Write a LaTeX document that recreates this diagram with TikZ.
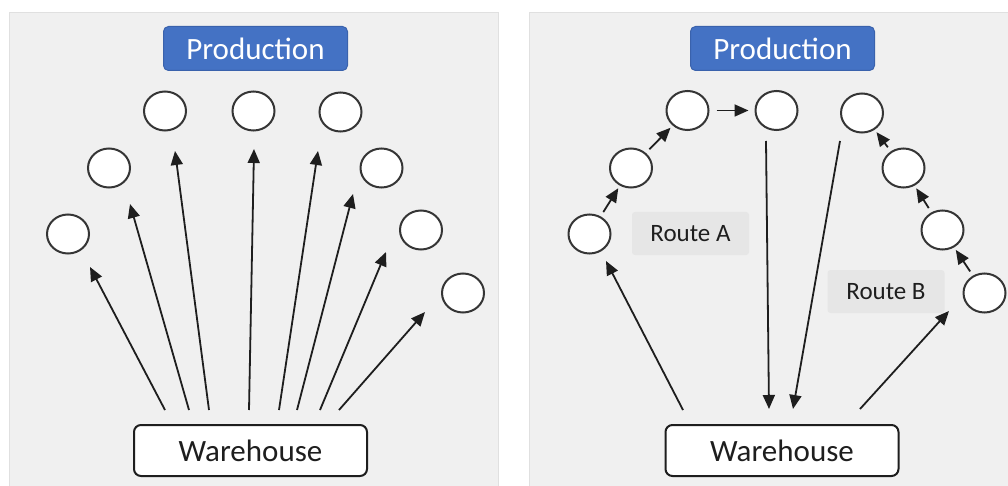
\documentclass[tikz,border=0pt]{standalone}
\usepackage{fontspec}
\setmainfont{Carlito}
\usetikzlibrary{arrows.meta,shapes.geometric}
\definecolor{panelgray}{HTML}{F0F0F0}
\definecolor{panelline}{HTML}{E0E0E0}
\definecolor{prodblue}{HTML}{4472C4}
\definecolor{prodline}{HTML}{3A62AC}
\definecolor{routegray}{HTML}{E6E6E6}
\definecolor{ink}{HTML}{1E1E1E}
\begin{document}
\begin{tikzpicture}[x=1pt,y=-1pt,
  panel/.style={fill=panelgray,draw=panelline,line width=1pt},
  prod/.style={draw=prodline,fill=prodblue,rounded corners=5pt,minimum width=184pt,minimum height=44pt,
    text=white,font=\fontsize{31}{36}\selectfont,inner sep=0pt,line width=1pt},
  whbox/.style={draw=ink,fill=white,rounded corners=7pt,minimum width=233pt,minimum height=51pt,
    line width=2pt,font=\fontsize{31}{36}\selectfont,inner sep=0pt,text=ink},
  spot/.style={ellipse,draw=ink!90,fill=white,line width=2pt,minimum width=42pt,minimum height=39pt,inner sep=0pt},
  arr/.style={-{Triangle[length=14pt,width=12pt]},line width=1.8pt,ink},
  hop/.style={arr,shorten <=5pt,shorten >=3pt},
  route/.style={fill=routegray,rounded corners=3pt,minimum width=117pt,minimum height=43pt,
    inner sep=0pt,font=\fontsize{25}{30}\selectfont,text=ink}
]
\useasboundingbox (0,0) rectangle (1008,486);
% panels
\path[panel] (9,13) rectangle (498,492);
\path[panel] (529,13) rectangle (1012,492);

% ---------------- left panel ----------------
\node[prod] (lprod) at (255.5,48.5) {Production};
\node[whbox] (lwh) at (250.5,450.5) {Warehouse};
\node[spot] (l1) at (68,234) {};
\node[spot] (l2) at (109,168) {};
\node[spot] (l3) at (165,111) {};
\node[spot] (l4) at (253.5,111) {};
\node[spot] (l5) at (340.5,112) {};
\node[spot] (l6) at (381.5,168) {};
\node[spot] (l7) at (421,230) {};
\node[spot] (l8) at (463,293) {};

\coordinate (ls1) at (165,410); \coordinate (lt1) at (90,267);
\coordinate (ls2) at (189,410); \coordinate (lt2) at (130,204);
\coordinate (ls3) at (209,410); \coordinate (lt3) at (175,151);
\coordinate (ls4) at (249,410); \coordinate (lt4) at (254,149);
\coordinate (ls5) at (279,410); \coordinate (lt5) at (318,151);
\coordinate (ls6) at (297,410); \coordinate (lt6) at (353,194);
\coordinate (ls7) at (320,410); \coordinate (lt7) at (386,252);
\coordinate (ls8) at (339,410); \coordinate (lt8) at (425,312);
\foreach \i in {1,...,8} \draw[arr] (ls\i) -- (lt\i);

% ---------------- right panel ----------------
\node[prod] (rprod) at (782.5,48.5) {Production};
\node[whbox] (rwh) at (782,450.5) {Warehouse};
\node[spot] (r1) at (589.5,234) {};
\node[spot] (r2) at (631,168) {};
\node[spot] (r3) at (687.5,110.5) {};
\node[spot] (r4) at (776.5,110.5) {};
\node[spot] (r5) at (862,113) {};
\node[spot] (r6) at (903.5,168) {};
\node[spot] (r7) at (942.5,230) {};
\node[spot] (r8) at (984.5,293) {};

\node[route] (ra) at (690.5,233.5) {Route A};
\node[route] (rb) at (886,291.5) {Route B};

\draw[hop] (r1) -- (r2);
\draw[hop] (r2) -- (r3);
\draw[arr,shorten <=7pt,shorten >=6pt] (r3) -- (r4);
\draw[hop] (r8) -- (r7);
\draw[hop] (r7) -- (r6);
\draw[hop] (r6) -- (r5);

\coordinate (rs1) at (683,410); \coordinate (rt1) at (606,261);
\coordinate (rs2) at (766,141); \coordinate (rt2) at (769,409);
\coordinate (rs3) at (840,141); \coordinate (rt3) at (793,409);
\coordinate (rs4) at (860,409); \coordinate (rt4) at (949,311);
\foreach \i in {1,...,4} \draw[arr] (rs\i) -- (rt\i);
\end{tikzpicture}
\end{document}
